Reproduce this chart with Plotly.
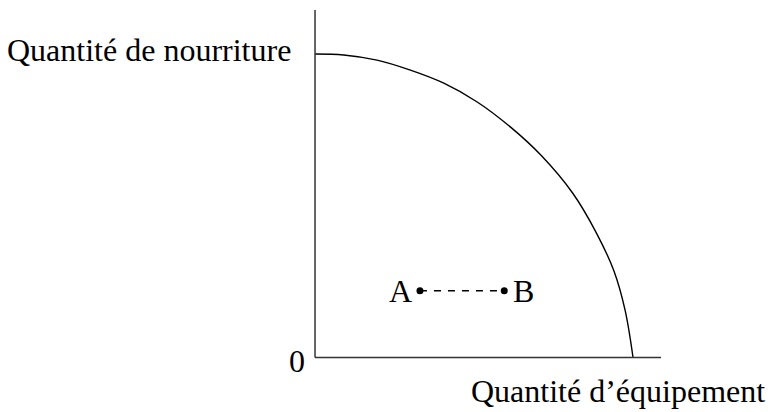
import plotly.graph_objects as go

# frontière des possibilités de production
equipement = [0, 0.9, 1.95, 3.0, 4.05, 5.1, 6.15, 7.1, 8.1, 8.85, 9.4, 9.75, 10]
nourriture = [10, 9.97, 9.8, 9.47, 9.04, 8.42, 7.59, 6.67, 5.42, 4.1, 2.85, 1.56, 0]

points_noms = ["A", "B"]
points_x = [3.3, 5.95]
points_y = [2.2, 2.2]

FONT = "Liberation Serif"

fig = go.Figure()

fig.add_trace(go.Scatter(
    x=equipement, y=nourriture, mode="lines",
    line=dict(color="black", width=1.4, shape="spline", smoothing=1),
    hoverinfo="skip", showlegend=False
))
fig.add_trace(go.Scatter(
    x=points_x, y=points_y, mode="lines+markers",
    line=dict(color="black", width=1.4, dash="7px,7px"),
    marker=dict(color="black", size=7),
    showlegend=False
))

# axes
fig.add_shape(type="line", x0=0, y0=0, x1=0, y1=11.45,
              line=dict(color="#333", width=1.5))
fig.add_shape(type="line", x0=0, y0=0, x1=10.88, y1=0,
              line=dict(color="#333", width=1.5))

fig.add_annotation(x=-0.7, y=10.12, text="Quantité de nourriture",
                   xanchor="right", yanchor="middle", showarrow=False)
fig.add_annotation(x=-0.25, y=-0.1, text="0",
                   xanchor="right", yanchor="middle", showarrow=False)
fig.add_annotation(x=14.2, y=-1.1, text="Quantité d’équipement",
                   xanchor="right", yanchor="middle", showarrow=False)
fig.add_annotation(x=points_x[0] - 0.2, y=points_y[0], text=points_noms[0],
                   xanchor="right", yanchor="middle", showarrow=False)
fig.add_annotation(x=points_x[1] + 0.2, y=points_y[1], text=points_noms[1],
                   xanchor="left", yanchor="middle", showarrow=False)

fig.update_layout(
    width=772, height=412,
    margin=dict(l=0, r=0, t=0, b=0),
    paper_bgcolor="white", plot_bgcolor="white",
    font=dict(family=FONT, size=32, color="black"),
    xaxis=dict(range=[-9.906, 14.37], visible=False),
    yaxis=dict(range=[-1.796, 11.78], visible=False),
)

fig.write_html("out.html", config={"displayModeBar": False},
               post_script="document.body.style.margin='0';")
